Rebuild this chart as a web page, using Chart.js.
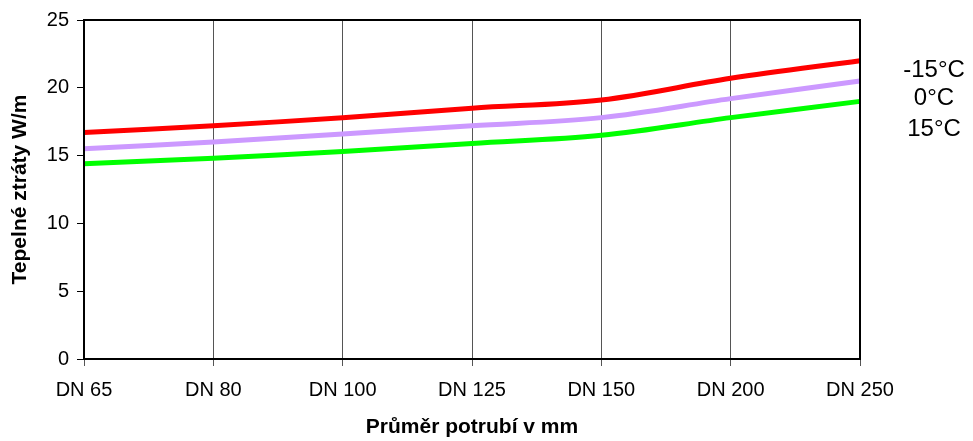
<!DOCTYPE html>
<html>
<head>
<meta charset="utf-8">
<title>Tepelné ztráty</title>
<script src="https://cdn.jsdelivr.net/npm/chart.js@4.4.1/dist/chart.umd.min.js"></script>
<style>
  html, body { margin: 0; padding: 0; background: #ffffff; }
  #wrap { width: 973px; height: 441px; position: relative; }
</style>
</head>
<body>
<div id="wrap"><canvas id="c" width="973" height="441"></canvas></div>
<script>
// Pipe sizes along the x axis
const categories = ['DN 65', 'DN 80', 'DN 100', 'DN 125', 'DN 150', 'DN 200', 'DN 250'];

// Heat loss in W/m for three ambient temperatures
const lossMinus15 = [16.7, 17.2, 17.8, 18.5, 19.1, 20.7, 22.0];
const loss0       = [15.5, 16.0, 16.6, 17.2, 17.8, 19.2, 20.5];
const loss15      = [14.4, 14.8, 15.3, 15.9, 16.5, 17.8, 19.0];

const seriesNames = ['-15°C', '0°C', '15°C'];
const yTicks = [0, 5, 10, 15, 20, 25];

const FONT = '"Liberation Sans", Arial, sans-serif';

// Black frame around the plot area
const framePlugin = {
  id: 'frame',
  afterDraw(chart) {
    const a = chart.chartArea, ctx = chart.ctx;
    ctx.save();
    ctx.strokeStyle = '#000';
    ctx.lineWidth = 2;
    ctx.strokeRect(a.left, a.top, a.right - a.left, a.bottom - a.top);
    ctx.restore();
  }
};

// Series names written to the right of the plot
const seriesLabelPlugin = {
  id: 'seriesLabels',
  afterDraw(chart) {
    const a = chart.chartArea, ctx = chart.ctx;
    const offsets = [57, 85, 116];
    ctx.save();
    ctx.fillStyle = '#000';
    ctx.font = '24px ' + FONT;
    ctx.textAlign = 'center';
    ctx.textBaseline = 'alphabetic';
    seriesNames.forEach((name, i) => {
      ctx.fillText(name, a.right + 74, a.top + offsets[i]);
    });
    ctx.restore();
  }
};

const ds = (label, data, color) => ({
  label, data,
  borderColor: color,
  backgroundColor: color,
  borderWidth: 5,
  pointRadius: 0,
  pointHoverRadius: 0,
  tension: 0.35,
  fill: false
});

new Chart(document.getElementById('c'), {
  type: 'line',
  data: {
    labels: categories,
    datasets: [
      ds(seriesNames[0], lossMinus15, '#ff0000'),
      ds(seriesNames[1], loss0, '#cc99ff'),
      ds(seriesNames[2], loss15, '#00ff00')
    ]
  },
  options: {
    responsive: false,
    animation: false,
    devicePixelRatio: 1,
    layout: { padding: { top: 20, right: 113, bottom: 0, left: 0 } },
    plugins: {
      legend: { display: false },
      tooltip: { enabled: false }
    },
    scales: {
      x: {
        type: 'category',
        offset: false,
        grid: {
          display: true,
          drawOnChartArea: true,
          drawTicks: true,
          tickLength: 7,
          color: '#555555',
          lineWidth: 1
        },
        border: { display: true, color: '#000', width: 2 },
        ticks: {
          color: '#000',
          font: { family: FONT, size: 20 },
          padding: 12,
          maxRotation: 0,
          autoSkip: false
        },
        title: {
          display: true,
          text: 'Průměr potrubí v mm',
          color: '#000',
          font: { family: FONT, size: 21, weight: 'bold' },
          padding: { top: 0, bottom: 1 }
        },
        afterFit(scale) { scale.height = 82; }
      },
      y: {
        min: 0,
        max: 25,
        afterBuildTicks(scale) { scale.ticks = yTicks.map(v => ({ value: v })); },
        grid: {
          display: true,
          drawOnChartArea: false,
          drawTicks: true,
          tickLength: 7,
          color: '#000'
        },
        border: { display: true, color: '#000', width: 2 },
        ticks: {
          color: '#000',
          font: { family: FONT, size: 20 },
          padding: 8
        },
        title: {
          display: true,
          text: 'Tepelné ztráty W/m',
          color: '#000',
          font: { family: FONT, size: 21, weight: 'bold' },
          padding: { top: 8, bottom: 0 }
        },
        afterFit(scale) { scale.width = 84; }
      }
    }
  },
  plugins: [framePlugin, seriesLabelPlugin]
});
</script>
</body>
</html>
